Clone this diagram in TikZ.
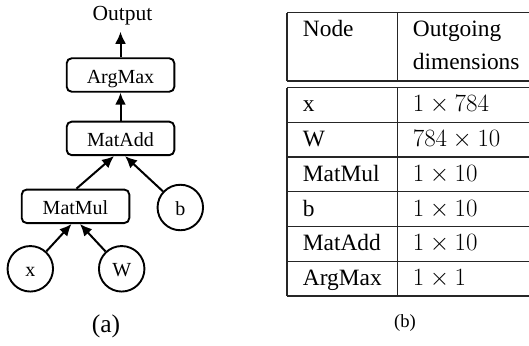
\documentclass[tikz,border=0pt]{standalone}
\usepackage{fontspec}
\setmainfont{Liberation Serif}
\usetikzlibrary{arrows.meta}
\tikzset{
  opbox/.style={draw, line width=1.9pt, rounded corners=5pt, minimum width=107.6pt, minimum height=33.5pt, inner sep=0pt, text height=16pt, text depth=0pt, font=\fontsize{20}{24}\selectfont},
  varnode/.style={draw, circle, line width=1.9pt, minimum size=45.5pt, inner sep=0pt, text height=16pt, text depth=0pt, font=\fontsize{20}{24}\selectfont},
  arr/.style={-{Latex[length=12pt,width=11pt]}, line width=2pt},
  tline/.style={line width=1.2pt, draw=black!85},
  tcell/.style={anchor=base west, inner sep=0pt, font=\fontsize{23.4}{28}\selectfont},
}
\begin{document}
\begin{tikzpicture}[x=1pt,y=-1pt]
\useasboundingbox (0,0) rectangle (529,345);
% ---- (a) graph ----
\node[anchor=base, inner sep=6.3pt, font=\fontsize{21.5}{26}\selectfont] (out) at (122.5,20.7) {Output};
\node[opbox] (argmax) at (120.5,75) {ArgMax};
\node[opbox] (matadd) at (120.5,138.4) {MatAdd};
\node[opbox] (matmul) at (75.5,206.3) {MatMul};
\node[varnode] (b) at (180.3,207.5) {b};
\node[varnode] (x) at (30.3,268.8) {x};
\node[varnode] (W) at (121.7,268.8) {W};
\draw[arr] (argmax.north) -- (argmax.north |- out.south);
\draw[arr] (matadd.north) -- (argmax.south);
\draw[arr] ([xshift=1pt]matmul.north) -- ([xshift=-6.5pt]matadd.south);
\draw[arr] (b) -- ([xshift=4.5pt]matadd.south);
\draw[arr] (x) -- ([xshift=-4pt]matmul.south);
\draw[arr] (W) -- ([xshift=4.5pt]matmul.south);
\node[anchor=base, inner sep=0pt, font=\fontsize{25.5}{30}\selectfont] (capa) at (106,332) {(a)};
% ---- (b) table ----
\draw[tline] (287,12.7) -- (529,12.7);
\draw[tline] (287,81) -- (529,81);
\draw[tline] (287,87.5) -- (529,87.5);
\foreach \yy in {122.25,157,191.75,226.5,261.25,296}
  \draw[tline] (287,\yy) -- (529,\yy);
\draw[tline] (287,12.7) -- (287,81);
\draw[tline] (397.5,12.7) -- (397.5,81);
\draw[tline] (287,87.5) -- (287,296);
\draw[tline] (397.5,87.5) -- (397.5,296);
\node[tcell] (hnode) at (302.7,37) {Node};
\node[tcell] (hout) at (412.7,37) {Outgoing};
\node[tcell] (hdim) at (412.7,69.5) {dimensions};
\node[tcell] (r1a) at (302.7,111.9) {x};
\node[tcell] (r1b) at (412.7,111.9) {$1\times784$};
\node[tcell] (r2a) at (302.7,146.7) {W};
\node[tcell] (r2b) at (412.7,146.7) {$784\times10$};
\node[tcell] (r3a) at (302.7,181.4) {MatMul};
\node[tcell] (r3b) at (412.7,181.4) {$1\times10$};
\node[tcell] (r4a) at (302.7,216.2) {b};
\node[tcell] (r4b) at (412.7,216.2) {$1\times10$};
\node[tcell] (r5a) at (302.7,250.9) {MatAdd};
\node[tcell] (r5b) at (412.7,250.9) {$1\times10$};
\node[tcell] (r6a) at (302.7,285.7) {ArgMax};
\node[tcell] (r6b) at (412.7,285.7) {$1\times1$};
\node[anchor=base, inner sep=0pt, font=\fontsize{18.6}{22}\selectfont] (capb) at (405,327.7) {(b)};
\end{tikzpicture}
\end{document}
